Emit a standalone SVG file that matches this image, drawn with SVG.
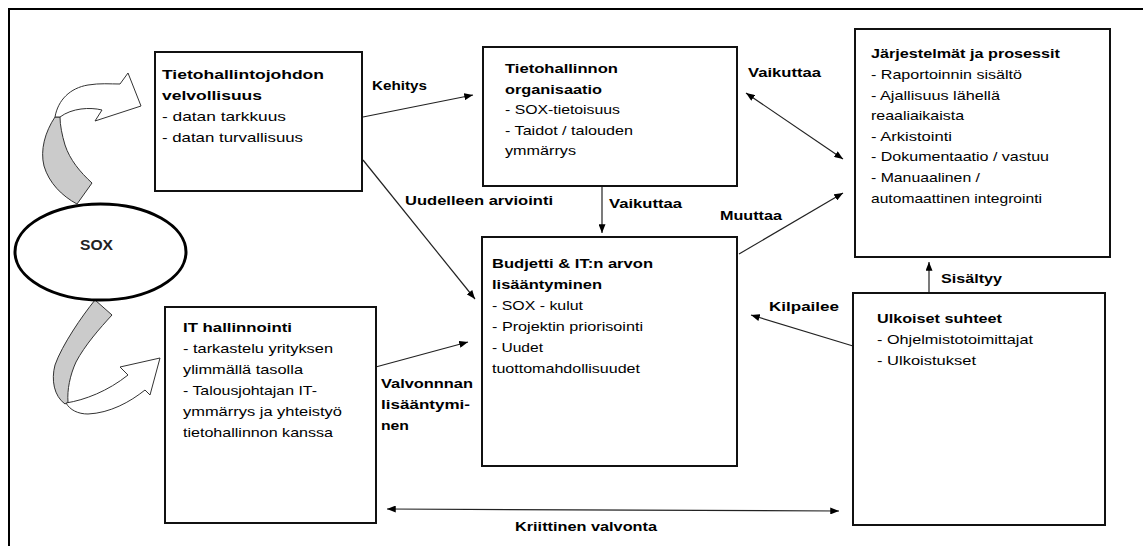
<svg xmlns="http://www.w3.org/2000/svg" width="1143" height="546" viewBox="0 0 1143 546">
  <defs>
    <style>
      .frame { fill: none; stroke: #000; stroke-width: 2; }
      .box { fill: #fff; stroke: #111; stroke-width: 2; }
      .link { fill: none; stroke: #222; stroke-width: 1.2; }
      .ribbon-back { fill: #cbcbcb; stroke: #333; stroke-width: 1; }
      .ribbon-front { fill: #fff; stroke: #333; stroke-width: 1; }
      text { font-family: "Liberation Sans", Arial, sans-serif; font-size: 13px; fill: #000; }
      .b { font-weight: bold; }
      .sox { font-size: 14px; font-weight: bold; fill: #222; }
    </style>
    <marker id="ah" viewBox="0 0 10 8" refX="10" refY="4" markerWidth="9" markerHeight="7" markerUnits="userSpaceOnUse" orient="auto-start-reverse">
      <path d="M0,0 L10,4 L0,8 z" fill="#000"/>
    </marker>
  </defs>

  <rect width="1143" height="546" fill="#fff"/>

  <!-- outer frame: top and left edges -->
  <path class="frame" d="M1143,9 L9,9 L9,546"/>

  <g id="connectors">
    <!-- block arrows leaving SOX -->
    <path class="ribbon-back" d="M55,117 C45,132 40,150 44,166 C49,183 62,196 77,204 L92,183 C80,172 70,160 65,145 C62,135 60,125 60,117 Z"/>
    <path class="ribbon-front" d="M55,117 C58,100 70,88 88,85 C100,83 110,84 120,84 L128,73 L141,106 L95,121 L102,110 C90,107 72,108 60,117 Z"/>
    <path class="ribbon-front" d="M66,403 C85,400 108,391 128,375 L120,367 L160,358 L150,395 L145,390 C130,402 110,413 88,414 C78,414 70,410 66,403 Z"/>
    <path class="ribbon-back" d="M95,300 C82,316 62,345 55,365 C51,380 54,396 65,404 L68,402 C67,390 70,375 76,362 C85,345 100,328 112,315 Z"/>

    <!-- relation lines -->
    <line class="link" x1="363" y1="117" x2="473" y2="95" marker-end="url(#ah)"/>
    <line class="link" x1="363" y1="160" x2="475" y2="299" marker-end="url(#ah)"/>
    <line class="link" x1="602" y1="186" x2="602" y2="233" marker-end="url(#ah)"/>
    <line class="link" x1="746" y1="93" x2="843" y2="159" marker-start="url(#ah)" marker-end="url(#ah)"/>
    <line class="link" x1="739" y1="254" x2="843" y2="193" marker-end="url(#ah)"/>
    <line class="link" x1="929" y1="292" x2="929" y2="262" marker-end="url(#ah)"/>
    <line class="link" x1="853" y1="346" x2="751" y2="315" marker-end="url(#ah)"/>
    <line class="link" x1="372" y1="368" x2="468" y2="342" marker-end="url(#ah)"/>
    <line class="link" x1="387" y1="509" x2="839" y2="511" marker-start="url(#ah)" marker-end="url(#ah)"/>

    <!-- relation labels -->
    <text class="b" x="372" y="90" textLength="55" lengthAdjust="spacingAndGlyphs">Kehitys</text>
    <text class="b" x="405" y="205" textLength="148" lengthAdjust="spacingAndGlyphs">Uudelleen arviointi</text>
    <text class="b" x="748" y="77" textLength="73" lengthAdjust="spacingAndGlyphs">Vaikuttaa</text>
    <text class="b" x="609" y="208" textLength="73" lengthAdjust="spacingAndGlyphs">Vaikuttaa</text>
    <text class="b" x="720" y="220" textLength="62" lengthAdjust="spacingAndGlyphs">Muuttaa</text>
    <text class="b" x="941" y="283" textLength="61" lengthAdjust="spacingAndGlyphs">Sisältyy</text>
    <text class="b" x="769" y="311" textLength="70" lengthAdjust="spacingAndGlyphs">Kilpailee</text>
    <text class="b" x="515" y="531" textLength="142" lengthAdjust="spacingAndGlyphs">Kriittinen valvonta</text>
    <text class="b" x="381" y="388" textLength="92" lengthAdjust="spacingAndGlyphs">Valvonnnan</text>
    <text class="b" x="381" y="409" textLength="89" lengthAdjust="spacingAndGlyphs">lisääntymi-</text>
    <text class="b" x="381" y="430" textLength="28" lengthAdjust="spacingAndGlyphs">nen</text>
  </g>

  <g id="node-sox">
    <ellipse cx="100.5" cy="252" rx="85.5" ry="48" fill="#fff" stroke="#000" stroke-width="3"/>
    <text class="sox" x="80" y="250" textLength="33" lengthAdjust="spacingAndGlyphs">SOX</text>
  </g>

  <g id="node-cio-duty">
    <rect class="box" x="155" y="52" width="207" height="139"/>
    <text class="b" x="162" y="79" textLength="162" lengthAdjust="spacingAndGlyphs">Tietohallintojohdon</text>
    <text class="b" x="162" y="100" textLength="100" lengthAdjust="spacingAndGlyphs">velvollisuus</text>
    <text x="162" y="121" textLength="124" lengthAdjust="spacingAndGlyphs">- datan tarkkuus</text>
    <text x="162" y="142" textLength="141" lengthAdjust="spacingAndGlyphs">- datan turvallisuus</text>
  </g>

  <g id="node-it-org">
    <rect class="box" x="483" y="47" width="254" height="139"/>
    <text class="b" x="505" y="73" textLength="113" lengthAdjust="spacingAndGlyphs">Tietohallinnon</text>
    <text class="b" x="505" y="93.5" textLength="97" lengthAdjust="spacingAndGlyphs">organisaatio</text>
    <text x="505" y="114" textLength="115" lengthAdjust="spacingAndGlyphs">- SOX-tietoisuus</text>
    <text x="505" y="134.5" textLength="128" lengthAdjust="spacingAndGlyphs">- Taidot / talouden</text>
    <text x="505" y="155" textLength="71" lengthAdjust="spacingAndGlyphs">ymmärrys</text>
  </g>

  <g id="node-systems">
    <rect class="box" x="855" y="29" width="255" height="228"/>
    <text class="b" x="871" y="58" textLength="189" lengthAdjust="spacingAndGlyphs">Järjestelmät ja prosessit</text>
    <text x="871" y="79" textLength="151" lengthAdjust="spacingAndGlyphs">- Raportoinnin sisältö</text>
    <text x="871" y="99.5" textLength="129" lengthAdjust="spacingAndGlyphs">- Ajallisuus lähellä</text>
    <text x="871" y="120" textLength="93" lengthAdjust="spacingAndGlyphs">reaaliaikaista</text>
    <text x="871" y="140.5" textLength="81" lengthAdjust="spacingAndGlyphs">- Arkistointi</text>
    <text x="871" y="161" textLength="178" lengthAdjust="spacingAndGlyphs">- Dokumentaatio / vastuu</text>
    <text x="871" y="182" textLength="109" lengthAdjust="spacingAndGlyphs">- Manuaalinen /</text>
    <text x="871" y="203" textLength="171" lengthAdjust="spacingAndGlyphs">automaattinen integrointi</text>
  </g>

  <g id="node-budget">
    <rect class="box" x="482" y="237" width="255" height="229"/>
    <text class="b" x="492" y="268" textLength="161" lengthAdjust="spacingAndGlyphs">Budjetti &amp; IT:n arvon</text>
    <text class="b" x="492" y="289" textLength="110" lengthAdjust="spacingAndGlyphs">lisääntyminen</text>
    <text x="492" y="310" textLength="91" lengthAdjust="spacingAndGlyphs">- SOX - kulut</text>
    <text x="492" y="331" textLength="151" lengthAdjust="spacingAndGlyphs">- Projektin priorisointi</text>
    <text x="492" y="352" textLength="51" lengthAdjust="spacingAndGlyphs">- Uudet</text>
    <text x="492" y="373" textLength="148" lengthAdjust="spacingAndGlyphs">tuottomahdollisuudet</text>
  </g>

  <g id="node-it-governance">
    <rect class="box" x="165" y="307" width="211" height="216"/>
    <text class="b" x="183" y="332" textLength="109" lengthAdjust="spacingAndGlyphs">IT hallinnointi</text>
    <text x="183" y="353" textLength="150" lengthAdjust="spacingAndGlyphs">- tarkastelu yrityksen</text>
    <text x="183" y="374" textLength="120" lengthAdjust="spacingAndGlyphs">ylimmällä tasolla</text>
    <text x="183" y="395" textLength="134" lengthAdjust="spacingAndGlyphs">- Talousjohtajan IT-</text>
    <text x="183" y="416" textLength="159" lengthAdjust="spacingAndGlyphs">ymmärrys ja yhteistyö</text>
    <text x="183" y="437" textLength="150" lengthAdjust="spacingAndGlyphs">tietohallinnon kanssa</text>
  </g>

  <g id="node-external">
    <rect class="box" x="853" y="293" width="252" height="232"/>
    <text class="b" x="877" y="323" textLength="125" lengthAdjust="spacingAndGlyphs">Ulkoiset suhteet</text>
    <text x="877" y="344" textLength="156" lengthAdjust="spacingAndGlyphs">- Ohjelmistotoimittajat</text>
    <text x="877" y="365" textLength="99" lengthAdjust="spacingAndGlyphs">- Ulkoistukset</text>
  </g>
</svg>
